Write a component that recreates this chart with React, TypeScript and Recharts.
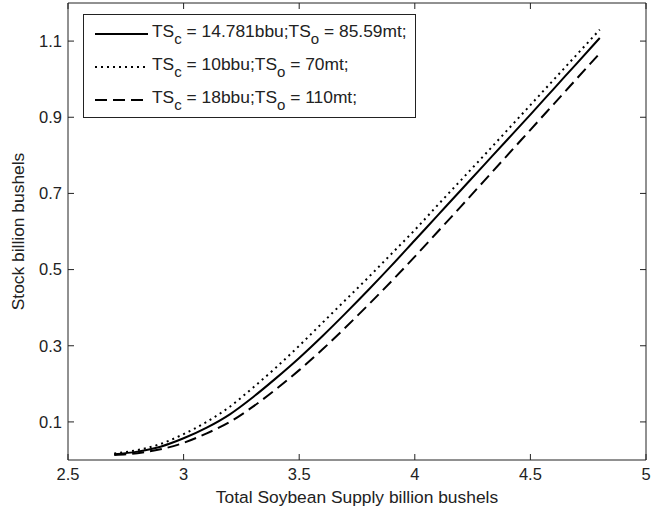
import { LineChart, Line, XAxis, YAxis } from 'recharts';

const supply = [2.7, 2.8, 2.9, 3.0, 3.1, 3.2, 3.3, 3.4, 3.5, 3.6, 3.7, 3.8, 3.9, 4.0, 4.1, 4.2, 4.3, 4.4, 4.5, 4.6, 4.7, 4.8];
const stockBase = [0.015, 0.022, 0.035, 0.057, 0.085, 0.12, 0.165, 0.215, 0.268, 0.325, 0.385, 0.447, 0.511, 0.577, 0.643, 0.709, 0.775, 0.841, 0.907, 0.974, 1.041, 1.108];
const stockLow = [0.017, 0.026, 0.042, 0.068, 0.1, 0.14, 0.19, 0.243, 0.3, 0.36, 0.42, 0.48, 0.542, 0.604, 0.67, 0.735, 0.8, 0.866, 0.932, 0.998, 1.064, 1.13];
const stockHigh = [0.013, 0.018, 0.028, 0.045, 0.07, 0.1, 0.14, 0.186, 0.236, 0.29, 0.348, 0.408, 0.47, 0.534, 0.6, 0.666, 0.733, 0.8, 0.867, 0.934, 1.001, 1.068];

const xTicks = [2.5, 3, 3.5, 4, 4.5, 5];
const yTicks = [0.1, 0.3, 0.5, 0.7, 0.9, 1.1];

const series = [
  { key: 'base', dash: undefined, label: ['14.781bbu', '85.59mt'] },
  { key: 'low', dash: '2 4', label: ['10bbu', '70mt'] },
  { key: 'high', dash: '12 6', label: ['18bbu', '110mt'] },
];

const data = supply.map((x, i) => ({
  x,
  base: stockBase[i],
  low: stockLow[i],
  high: stockHigh[i],
}));

const FONT = 'Arial, "Liberation Sans", Helvetica, sans-serif';
const INK = '#222';
const LABEL_SIZE = 17.4;
const TICK_SIZE = 16.5;

const YLabel = ({ viewBox }: any) => {
  const cx = 18;
  const cy = viewBox.y + viewBox.height / 2;
  return (
    <text
      x={cx}
      y={cy}
      transform={`rotate(-90 ${cx} ${cy})`}
      textAnchor="middle"
      dominantBaseline="central"
      fontSize={LABEL_SIZE}
      fill={INK}
      fontFamily={FONT}
    >
      Stock billion bushels
    </text>
  );
};

const subStyle = { fontSize: 15, verticalAlign: -7, lineHeight: 0 };

const LegendBox = () => (
  <div
    style={{
      position: 'absolute',
      left: 83,
      top: 14,
      width: 333,
      height: 104,
      border: '1px solid #222',
      background: '#fff',
      fontFamily: FONT,
      fontSize: LABEL_SIZE,
      color: INK,
      paddingTop: 2,
      boxSizing: 'border-box',
    }}
  >
    {series.map((s) => (
      <div key={s.key} style={{ display: 'flex', alignItems: 'center', height: 33 }}>
        <svg width={68} height={10} style={{ flex: 'none' }}>
          <line x1={11} x2={64} y1={5} y2={5} stroke="#000" strokeWidth={2} strokeDasharray={s.dash} />
        </svg>
        <span style={{ whiteSpace: 'nowrap', marginTop: -5 }}>
          TS<sub style={subStyle}>c</sub> = {s.label[0]};TS<sub style={subStyle}>o</sub> = {s.label[1]};
        </span>
      </div>
    ))}
  </div>
);

export default function App() {
  return (
    <div style={{ position: 'absolute', left: 0, top: 0, width: 652, height: 514, background: '#fff' }}>
      <LineChart width={652} height={514} data={data} margin={{ top: 2, right: 0, left: 0, bottom: 0 }}>
        <XAxis
          xAxisId="b"
          dataKey="x"
          type="number"
          domain={[2.5, 5]}
          ticks={xTicks}
          allowDataOverflow
          height={54}
          stroke={INK}
          tickSize={-6}
          tickMargin={14}
          tick={{ fontSize: TICK_SIZE, fill: INK, fontFamily: FONT }}
          label={{ value: 'Total Soybean Supply billion bushels', position: 'insideBottom', offset: 11, fontSize: LABEL_SIZE, fill: INK, fontFamily: FONT }}
        />
        <XAxis
          xAxisId="t"
          dataKey="x"
          type="number"
          orientation="top"
          domain={[2.5, 5]}
          ticks={xTicks}
          allowDataOverflow
          height={1}
          stroke={INK}
          tickSize={-6}
          tickFormatter={() => ''}
        />
        <YAxis
          yAxisId="l"
          type="number"
          domain={[0, 1.2]}
          ticks={yTicks}
          allowDataOverflow
          width={68}
          stroke={INK}
          tickSize={-6}
          tickMargin={12}
          tick={{ fontSize: TICK_SIZE, fill: INK, fontFamily: FONT }}
          label={<YLabel />}
        />
        <YAxis
          yAxisId="r"
          orientation="right"
          type="number"
          domain={[0, 1.2]}
          ticks={yTicks}
          allowDataOverflow
          width={6}
          stroke={INK}
          tickSize={-6}
          tickFormatter={() => ''}
        />
        {series.map((s) => (
          <Line
            key={s.key}
            xAxisId="b"
            yAxisId="l"
            dataKey={s.key}
            type="monotone"
            stroke="#000"
            strokeWidth={2}
            strokeDasharray={s.dash}
            dot={false}
            isAnimationActive={false}
          />
        ))}
      </LineChart>
      <LegendBox />
    </div>
  );
}
